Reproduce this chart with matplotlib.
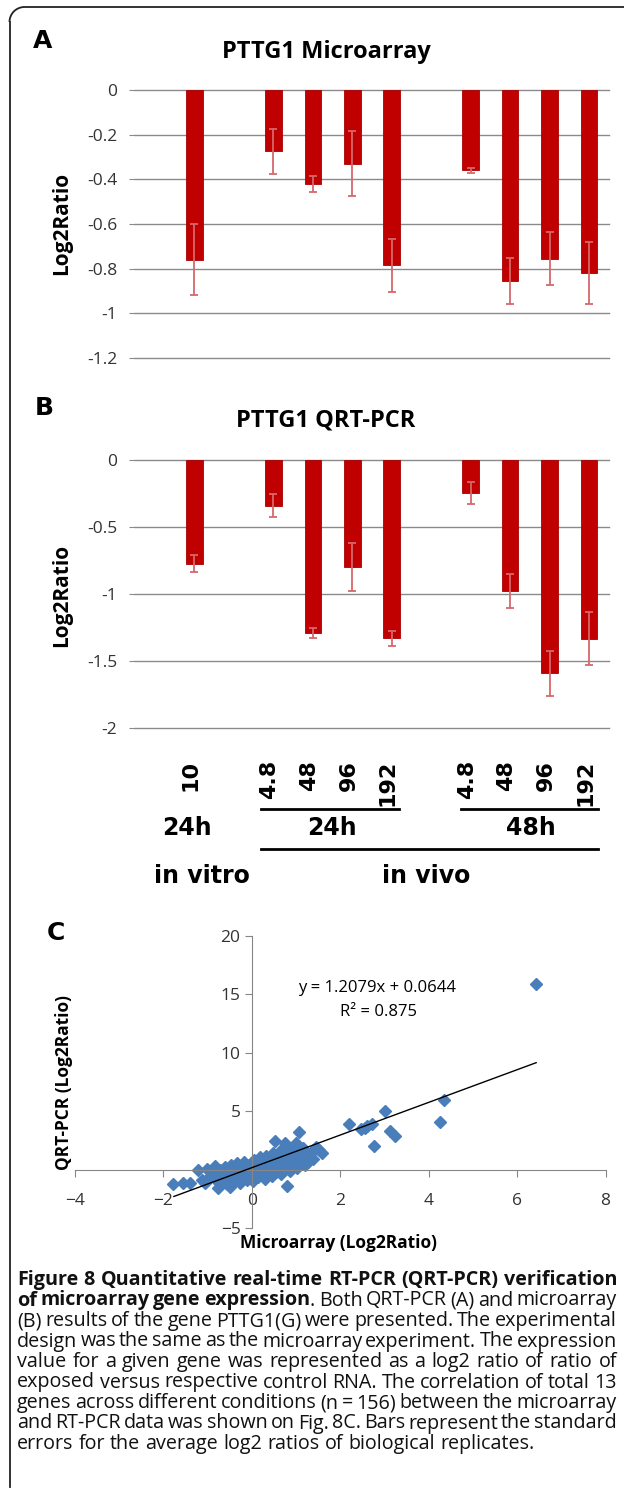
import numpy as np
import matplotlib
matplotlib.use('Agg')
import matplotlib.pyplot as plt
from matplotlib.patches import Arc
from matplotlib.transforms import blended_transform_factory

W, H = 624, 1508

# bar charts (A: microarray, B: QRT-PCR)
conditions = ['10', '4.8', '48', '96', '192', '4.8', '48', '96', '192']
slots = [1, 3, 4, 5, 6, 8, 9, 10, 11]
micro_vals = [-0.76, -0.275, -0.42, -0.33, -0.785, -0.36, -0.855, -0.755, -0.82]
micro_err = [0.16, 0.10, 0.035, 0.145, 0.12, 0.01, 0.105, 0.117, 0.138]
qpcr_vals = [-0.775, -0.34, -1.295, -0.80, -1.333, -0.245, -0.977, -1.595, -1.335]
qpcr_err = [0.065, 0.085, 0.038, 0.18, 0.055, 0.083, 0.125, 0.17, 0.20]

a_ticks = [0, -0.2, -0.4, -0.6, -0.8, -1, -1.2]
a_labels = ['0', '-0.2', '-0.4', '-0.6', '-0.8', '-1', '-1.2']
b_ticks = [0, -0.5, -1, -1.5, -2]
b_labels = ['0', '-0.5', '-1', '-1.5', '-2']

# scatter (C): microarray vs QRT-PCR log2 ratios
micro_x = [-1.78, -1.55, -1.40, -1.21, -1.13, -1.06, -1.01, -0.95, -0.90, -0.87,
           -0.82, -0.78, -0.76, -0.72, -0.68, -0.64, -0.60, -0.57, -0.53, -0.50,
           -0.47, -0.44, -0.40, -0.37, -0.34, -0.30, -0.27, -0.24, -0.20, -0.17,
           -0.14, -0.10, -0.07, -0.04, 0.00, 0.03, 0.06, 0.09, 0.12, 0.15,
           0.18, 0.21, 0.24, 0.27, 0.30, 0.33, 0.36, 0.39, 0.42, 0.45,
           0.48, 0.52, 0.52, 0.55, 0.58, 0.61, 0.64, 0.67, 0.70, 0.73,
           0.75, 0.76, 0.79, 0.80, 0.83, 0.86, 0.89, 0.92, 0.95, 0.98,
           1.00, 1.02, 1.05, 1.07, 1.10, 1.13, 1.17, 1.20, 1.24, 1.28,
           1.33, 1.38, 1.45, 1.52, 1.59, 2.20, 2.48, 2.56, 2.61, 2.71,
           2.76, 3.02, 3.12, 3.24, 4.25, 4.35, 6.43]
qpcr_y = [-1.25, -1.12, -1.12, -0.02, -0.85, -1.15, 0.05, -0.55, -0.30, -0.15,
          0.35, -0.95, -1.57, 0.02, -0.45, -0.75, 0.25, -1.25, -0.10, -1.45,
          0.45, -0.60, 0.10, -0.95, 0.55, -0.30, -1.10, 0.30, -0.55, 0.70,
          -0.15, -0.85, 0.40, -0.40, 0.15, -1.00, 0.85, -0.25, 0.35, -0.60,
          1.05, 0.05, -0.35, 0.60, -0.75, 1.20, 0.20, -0.15, 0.75, -0.50,
          1.40, 2.42, 0.30, -0.20, 0.95, 0.05, 1.60, -0.40, 0.55, 1.15,
          2.28, 0.20, -1.37, 1.85, 0.70, -0.10, 1.35, 0.40, 2.00, 0.90,
          2.28, 0.15, 1.55, 3.19, 0.65, 1.20, 1.85, 0.45, 1.05, 0.70,
          1.40, 0.90, 1.95, 1.65, 1.43, 3.88, 3.48, 3.60, 3.71, 3.93,
          2.02, 5.05, 3.28, 2.85, 4.05, 5.93, 15.9]
# trend line as drawn in the figure, and its printed equation
trend_x = [-1.76, 6.43]
trend_y = [-2.28, 9.15]
fit_slope, fit_icpt, fit_r2 = 1.2079, 0.0644, 0.875

caption = [
    [('Figure 8 Quantitative real-time RT-PCR (QRT-PCR) verification', 'bold')],
    [('of microarray gene expression', 'bold'), ('. Both QRT-PCR (A) and microarray', 'normal')],
    [('(B) results of the gene PTTG1(G) were presented. The experimental', 'normal')],
    [('design was the same as the microarray experiment. The expression', 'normal')],
    [('value for a given gene was represented as a log2 ratio of ratio of', 'normal')],
    [('exposed versus respective control RNA. The correlation of total 13', 'normal')],
    [('genes across different conditions (n = 156) between the microarray', 'normal')],
    [('and RT-PCR data was shown on Fig. 8C. Bars represent the standard', 'normal')],
    [('errors for the average log2 ratios of biological replicates.', 'normal')],
]

BAR = '#c00000'
ERR = '#d5686b'
GRID = '#8a8a8a'
DIAM = '#4a7ebb'
CAL = 'Open Sans'
ARL = 'DejaVu Sans'

fig = plt.figure(figsize=(W / 100, H / 100), dpi=100)
fig.patch.set_facecolor('white')


def px_axes(x0, y0, x1, y1):
    return fig.add_axes([x0 / W, 1 - y1 / H, (x1 - x0) / W, (y1 - y0) / H])


def bar_panel(ax, vals, errs, ticks, labels):
    ax.bar(slots, vals, width=0.42, color=BAR, edgecolor='#a80000', linewidth=0.6, zorder=2)
    ax.errorbar(slots, vals, yerr=errs, fmt='none', ecolor=ERR, elinewidth=1.3,
                capsize=3, capthick=1.3, zorder=3)
    ax.set_xlim(-0.5, 11.5)
    ax.set_ylim(ticks[-1], 0)
    ax.set_yticks(ticks)
    ax.set_yticklabels(labels, family=CAL, fontsize=12.5, color='#333333')
    ax.set_xticks([])
    ax.yaxis.grid(True, color=GRID, lw=1)
    for gl in ax.get_ygridlines():
        gl.set_clip_on(False)
    ax.set_axisbelow(True)
    for s in ax.spines.values():
        s.set_visible(False)
    ax.tick_params(axis='y', length=4, color=GRID, pad=9)


axA = px_axes(135.3, 90, 608.8, 358)
bar_panel(axA, micro_vals, micro_err, a_ticks, a_labels)
axB = px_axes(135.3, 460, 608.8, 727.7)
bar_panel(axB, qpcr_vals, qpcr_err, b_ticks, b_labels)

# scatter panel
axC = px_axes(74.8, 935.7, 605.6, 1228.3)
axC.set_xlim(-4, 8)
axC.set_ylim(-5, 20)
axC.plot(micro_x, qpcr_y, 'D', ms=6, color=DIAM, mec=DIAM, zorder=2)
axC.plot(trend_x, trend_y, color='black', lw=1, zorder=3)
for side in ['top', 'right']:
    axC.spines[side].set_visible(False)
for side in ['left', 'bottom']:
    axC.spines[side].set_position(('data', 0))
    axC.spines[side].set_color('#868686')
axC.set_xticks(range(-4, 9, 2))
axC.set_yticks(range(-5, 21, 5))
axC.tick_params(axis='x', length=5, color='#868686', pad=12, labelsize=12.5)
axC.tick_params(axis='y', length=5, color='#868686', pad=3, labelsize=12.5)
for t in axC.get_xticklabels() + axC.get_yticklabels():
    t.set_family(CAL)
    t.set_color('#333333')
axC.patch.set_alpha(0)

# overlay canvas in pixel coordinates for frame, labels and caption
cv = fig.add_axes([0, 0, 1, 1])
cv.set_xlim(0, W)
cv.set_ylim(H, 0)
cv.axis('off')

# frame
fc = '#222222'
cv.plot([9.5, 9.5], [22, 1487], color=fc, lw=1.3)
cv.plot([24.5, W], [7, 7], color=fc, lw=1.3)
cv.add_patch(Arc((24.5, 22), 30, 30, theta1=180, theta2=270, color=fc, lw=1.3))

# panel letters and titles
for letter, x, y in [('A', 43, 41), ('B', 44, 408), ('C', 56, 933)]:
    cv.text(x, y, letter, family=ARL, weight='bold', fontsize=18, ha='center', va='center')
cv.text(326, 52, 'PTTG1 Microarray', family=CAL, weight='bold', fontsize=17, ha='center', va='center')
cv.text(326, 421, 'PTTG1 QRT-PCR', family=CAL, weight='bold', fontsize=17, ha='center', va='center')
cv.text(62, 223, 'Log2Ratio', family=CAL, weight='bold', fontsize=15, rotation=90, ha='center', va='center')
cv.text(62, 595, 'Log2Ratio', family=CAL, weight='bold', fontsize=15, rotation=90, ha='center', va='center')

# category labels under panel B
tr = blended_transform_factory(axB.transData, cv.transData)
for s, lab in zip(slots, conditions):
    cv.text(s - 0.1, 760, lab, transform=tr, family=ARL, weight='bold', fontsize=16,
            rotation=90, ha='center', va='top')
cv.plot([2.69, 6.18], [809, 809], transform=tr, color='black', lw=2)
cv.plot([7.75, 11.23], [809, 809], transform=tr, color='black', lw=2)
cv.plot([2.69, 11.23], [849, 849], transform=tr, color='black', lw=2)
for x, y, s in [(0.81, 828, '24h'), (4.48, 828, '24h'), (9.53, 828, '48h'),
                (1.19, 876, 'in vitro'), (6.87, 876, 'in vivo')]:
    cv.text(x, y, s, transform=tr, family=ARL, weight='bold', fontsize=17, ha='center', va='center')

# scatter labels
cv.text(64, 1083, 'QRT-PCR (Log2Ratio)', family=CAL, weight='bold', fontsize=12.5,
        rotation=90, ha='center', va='center')
cv.text(339, 1243, 'Microarray (Log2Ratio)', family=CAL, weight='bold', fontsize=12.5,
        ha='center', va='center')
cv.text(377, 988, 'y = %.4fx + %.4f' % (fit_slope, fit_icpt), family=CAL, fontsize=12,
        ha='center', va='center')
cv.text(378, 1012, 'R\u00b2 = %.3f' % fit_r2, family=CAL, fontsize=12, ha='center', va='center')

# justified caption
renderer = fig.canvas.get_renderer()
cap_left, cap_right, cap_base, cap_step = 17, 617, 1285, 20.5


def text_w(s, weight, fs):
    t = cv.text(0, 0, s, family=CAL, weight=weight, fontsize=fs)
    w = t.get_window_extent(renderer).width
    t.remove()
    return w


# font size chosen so the bold first line fills the column with normal spacing
cap_fs = 10 * (cap_right - cap_left) / text_w(caption[0][0][0], 'bold', 10)
space_w = text_w('a b', 'normal', cap_fs) - text_w('ab', 'normal', cap_fs)
for i, segs in enumerate(caption):
    words = []
    for s, wt in segs:
        parts = s.split(' ')
        for j, p in enumerate(parts):
            if j == 0 and words and p:
                words[-1].append((p, wt))
            elif p:
                words.append([(p, wt)])
    widths = [sum(text_w(p, wt, cap_fs) for p, wt in wd) for wd in words]
    last = i == len(caption) - 1
    gap = space_w if last else (cap_right - cap_left - sum(widths)) / (len(words) - 1)
    x = cap_left
    y = cap_base + i * cap_step
    for wd, ww in zip(words, widths):
        xx = x
        for p, wt in wd:
            cv.text(xx, y, p, family=CAL, weight=wt, fontsize=cap_fs, ha='left',
                    va='baseline', color='#111111')
            xx += text_w(p, wt, cap_fs)
        x += ww + gap

fig.savefig('out.png', dpi=100, facecolor='white')
